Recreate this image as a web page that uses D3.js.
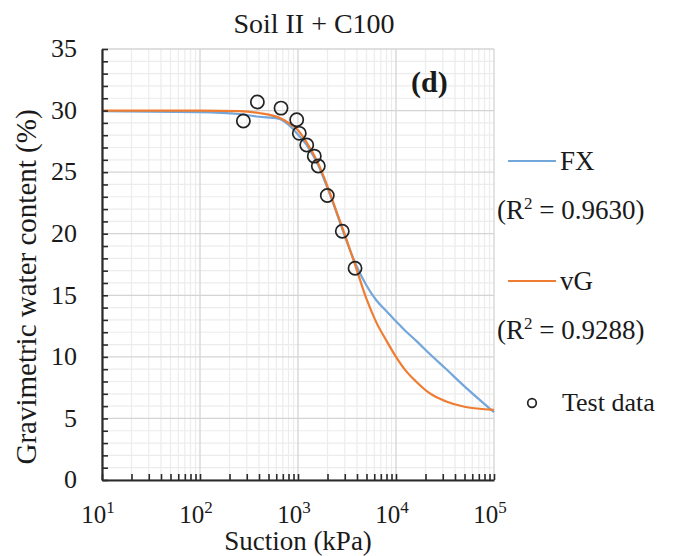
<!DOCTYPE html>
<html>
<head>
<meta charset="utf-8">
<script src="https://cdn.jsdelivr.net/npm/d3@7"></script>
<style>
  body { margin: 0; background: #fff; }
</style>
</head>
<body>
<svg class="swcc-chart"></svg>
<script>
// fitted curves (suction in kPa, water content in %)
const suction = [10, 100, 250, 400, 630, 800, 1000, 1250, 1600, 2000, 2500, 3200, 4000, 5000, 6300, 8000, 10000, 12500, 16000, 22000, 32000, 50000, 100000];
const fxWater = [29.95, 29.88, 29.72, 29.5, 29.35, 28.85, 28.05, 27.1, 25.6, 23.7, 21.6, 19.2, 17.3, 15.8, 14.6, 13.7, 12.9, 12.1, 11.32, 10.25, 9.05, 7.6, 5.5];
const vgWater = [30.0, 30.0, 29.95, 29.8, 29.45, 29.0, 28.4, 27.3, 25.75, 23.85, 21.7, 19.3, 17.0, 14.7, 12.8, 11.3, 10.0, 8.9, 8.0, 7.05, 6.4, 5.95, 5.7];

// measured points
const testSuction = [277, 385, 671, 970, 1031, 1228, 1466, 1611, 1990, 2831, 3819];
const testWater = [29.15, 30.7, 30.2, 29.25, 28.15, 27.2, 26.3, 25.5, 23.1, 20.2, 17.2];

const xTicks = [10, 100, 1000, 10000, 100000];
const yTicks = [0, 5, 10, 15, 20, 25, 30, 35];

const seriesNames = ['FX', 'vG'];
const seriesR2 = ['0.9630', '0.9288'];
const seriesColors = ['#73a6da', '#ee7d33'];

const chartWidth = 678,
      chartHeight = 556;

const plotLeft = 102,
      plotRight = 494,
      plotTop = 49,
      plotBottom = 480;

const fontFace = '"Liberation Serif", monospace';

const chart = d3.select('.swcc-chart')
                .attr('width', chartWidth)
                .attr('height', chartHeight);

const x = d3.scaleLog()
            .domain([10, 100000])
            .range([plotLeft, plotRight]);

const y = d3.scaleLinear()
            .domain([0, 35])
            .range([plotBottom, plotTop]);

// every 2..9 inside each decade
var xMinor = [];
for (var p = 1; p < 5; p++) {
  for (var k = 2; k < 10; k++) {
    xMinor.push(k * Math.pow(10, p));
  }
}
const yMinor = d3.range(0, 36);

function gridLines(values, vertical, color, w) {
  chart.append('g')
       .selectAll('line')
       .data(values)
       .enter()
       .append('line')
       .attr('x1', d => vertical ? x(d) : plotLeft)
       .attr('x2', d => vertical ? x(d) : plotRight)
       .attr('y1', d => vertical ? plotTop : y(d))
       .attr('y2', d => vertical ? plotBottom : y(d))
       .attr('stroke', color)
       .attr('stroke-width', w);
}

gridLines(xMinor, true, '#ececec', 1.2);
gridLines(yMinor.filter(v => v % 5 != 0), false, '#ececec', 1.2);
gridLines(xTicks, true, '#d4d4d4', 1.3);
gridLines(yTicks, false, '#d4d4d4', 1.3);

// curves
const curveLine = d3.line()
                    .x(d => x(d[0]))
                    .y(d => y(d[1]))
                    .curve(d3.curveMonotoneX);

[fxWater, vgWater].forEach((water, i) => {
  chart.append('path')
       .datum(suction.map((s, j) => [s, water[j]]))
       .attr('d', curveLine)
       .attr('fill', 'none')
       .attr('stroke', seriesColors[i])
       .attr('stroke-width', 2.2);
});

// test data
chart.append('g')
     .selectAll('circle')
     .data(testSuction.map((s, i) => [s, testWater[i]]))
     .enter()
     .append('circle')
     .attr('cx', d => x(d[0]))
     .attr('cy', d => y(d[1]))
     .attr('r', 6.6)
     .attr('fill', 'none')
     .attr('stroke', '#222')
     .attr('stroke-width', 1.7);

// axes
const yAxis = d3.axisLeft(y)
                .tickValues(yMinor)
                .tickSizeInner(-6)
                .tickSizeOuter(0)
                .tickFormat('');

const gy = chart.append('g')
                .attr('transform', 'translate(' + plotLeft + ', 0)')
                .call(yAxis);

const xAxis = d3.axisBottom(x)
                .tickValues(xMinor.concat(xTicks))
                .tickSizeInner(-6)
                .tickSizeOuter(0)
                .tickFormat('');

const gx = chart.append('g')
                .attr('transform', 'translate(0, ' + plotBottom + ')')
                .call(xAxis);

[gx, gy].forEach(g => {
  g.select('.domain').attr('stroke', '#2a2a2a').attr('stroke-width', 2.2);
  g.selectAll('.tick line').attr('stroke', '#2a2a2a').attr('stroke-width', 1.6);
  g.selectAll('.tick text').remove();
});

// texts: every one built here with its face set on creation
function addText(sel, size) {
  return sel.append('text')
            .style('font-family', fontFace)
            .attr('font-size', size)
            .attr('fill', '#1a1a1a');
}

const labels = chart.append('g');

labels.selectAll('text.ylab')
      .data(yTicks)
      .enter()
      .append('text')
      .attr('class', 'ylab')
      .style('font-family', fontFace)
      .attr('font-size', 26)
      .attr('fill', '#1a1a1a')
      .attr('x', plotLeft - 25)
      .attr('y', d => y(d))
      .attr('dy', '0.32em')
      .attr('text-anchor', 'end')
      .text(d => d);

// x labels as 10 with superscript exponent
const xLabels = labels.selectAll('text.xlab')
                      .data(xTicks)
                      .enter()
                      .append('text')
                      .attr('class', 'xlab')
                      .style('font-family', fontFace)
                      .attr('font-size', 25)
                      .attr('fill', '#1a1a1a')
                      .attr('x', d => x(d) - 4)
                      .attr('y', 523)
                      .attr('text-anchor', 'middle');

xLabels.append('tspan').text('10');
xLabels.append('tspan')
       .attr('font-size', 17)
       .attr('dy', -10)
       .text(d => Math.round(Math.log10(d)));

// titles
addText(labels, 28)
  .attr('x', 314)
  .attr('y', 33)
  .attr('text-anchor', 'middle')
  .text('Soil II + C100');

addText(labels, 30)
  .attr('x', 411)
  .attr('y', 92)
  .attr('font-weight', 'bold')
  .text('(d)');

addText(labels, 27)
  .attr('x', 298)
  .attr('y', 550)
  .attr('text-anchor', 'middle')
  .text('Suction (kPa)');

addText(labels, 29)
  .attr('transform', 'translate(36, 287) rotate(-90)')
  .attr('text-anchor', 'middle')
  .text('Gravimetric water content (%)');

// legend
const legend = chart.append('g')
                    .selectAll('g')
                    .data(seriesNames)
                    .enter()
                    .append('g')
                    .attr('transform', (d, i) => 'translate(0, ' + (161 + i * 120) + ')');

legend.append('line')
      .attr('x1', 508)
      .attr('x2', 556)
      .attr('stroke', (d, i) => seriesColors[i])
      .attr('stroke-width', 2.2);

legend.append('text')
      .style('font-family', fontFace)
      .attr('font-size', 27)
      .attr('fill', '#1a1a1a')
      .attr('x', 560)
      .attr('y', 9)
      .text(d => d);

const r2Text = legend.append('text')
                     .style('font-family', fontFace)
                     .attr('font-size', 27)
                     .attr('fill', '#1a1a1a')
                     .attr('x', 497)
                     .attr('y', 58);
r2Text.append('tspan').text('(R');
r2Text.append('tspan').attr('font-size', 17).attr('dy', -10).text('2');
r2Text.append('tspan').attr('dy', 10).text((d, i) => ' = ' + seriesR2[i] + ')');

chart.append('circle')
     .attr('cx', 532)
     .attr('cy', 403)
     .attr('r', 4.3)
     .attr('fill', 'none')
     .attr('stroke', '#222')
     .attr('stroke-width', 1.7);

addText(chart, 26)
  .attr('x', 562)
  .attr('y', 411)
  .text('Test data');
</script>
</body>
</html>
